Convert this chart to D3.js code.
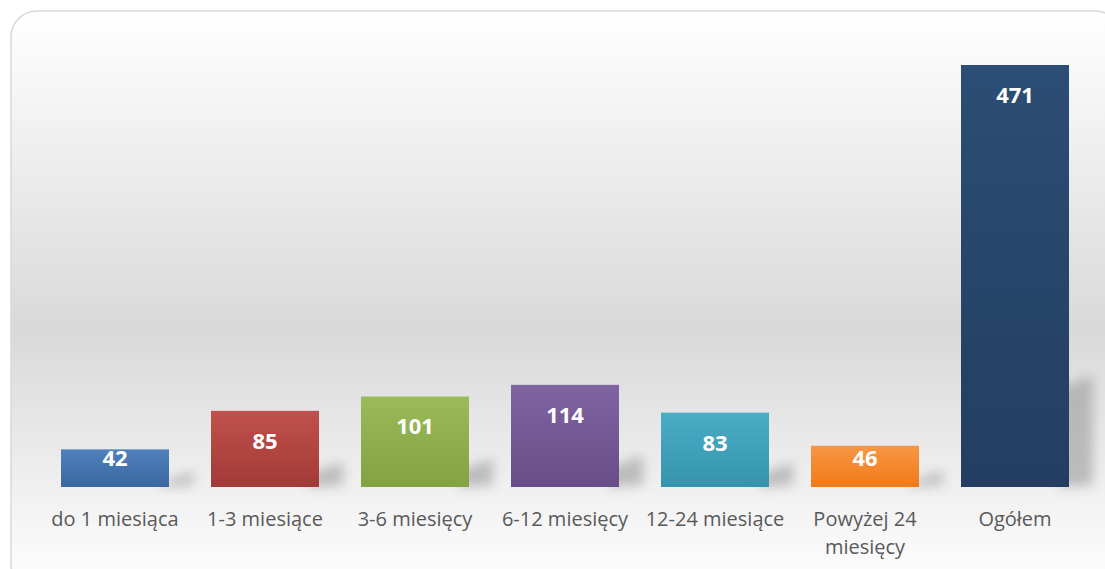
<!DOCTYPE html>
<html lang="pl">
<head>
  <meta charset="UTF-8">
  <title>Czas pozostawania bez pracy</title>
  <script src="https://cdnjs.cloudflare.com/ajax/libs/d3/7.8.5/d3.min.js"></script>
  <style>
    body { margin: 0; background: #ffffff; }
    svg { display: block; }
  </style>
</head>
<body>
  <div id="chart"></div>

  <script>
    // data
    const categories = ['do 1 miesiąca', '1-3 miesiące', '3-6 miesięcy', '6-12 miesięcy', '12-24 miesiące', 'Powyżej 24 miesięcy', 'Ogółem'];
    const values = [42, 85, 101, 114, 83, 46, 471];
    const colorsTop = ['#4f81bd', '#c0504d', '#9bbb59', '#8064a2', '#4bacc6', '#f79646', '#2c4d75'];
    const colorsBottom = ['#3a679f', '#a23a37', '#82a243', '#684d88', '#3594ac', '#f27a17', '#233e60'];

    const width = 1105, height = 569;
    const margin = { top: 65, right: 15, bottom: 82, left: 40 };
    const baseY = height - margin.bottom;

    const svg = d3.select('#chart').append('svg')
      .attr('width', width)
      .attr('height', height);

    const defs = svg.append('defs');

    // background gradient
    const bg = defs.append('linearGradient').attr('id', 'bg')
      .attr('x1', 0).attr('y1', 0).attr('x2', 0).attr('y2', 1);
    bg.append('stop').attr('offset', '0%').attr('stop-color', '#ffffff');
    bg.append('stop').attr('offset', '55%').attr('stop-color', '#d9d9d9');
    bg.append('stop').attr('offset', '100%').attr('stop-color', '#ffffff');

    const blur = defs.append('filter').attr('id', 'blur')
      .attr('x', '-50%').attr('y', '-50%').attr('width', '200%').attr('height', '200%');
    blur.append('feGaussianBlur').attr('stdDeviation', 6);

    colorsTop.forEach(function (c, i) {
      const g = defs.append('linearGradient').attr('id', 'bar' + i)
        .attr('x1', 0).attr('y1', 0).attr('x2', 0).attr('y2', 1);
      g.append('stop').attr('offset', '0%').attr('stop-color', c);
      g.append('stop').attr('offset', '100%').attr('stop-color', colorsBottom[i]);
    });

    // chart frame
    svg.append('rect')
      .attr('x', 11).attr('y', 11)
      .attr('width', 1110).attr('height', 580)
      .attr('rx', 26).attr('ry', 26)
      .attr('fill', 'url(#bg)')
      .attr('stroke', '#d9d9d9')
      .attr('stroke-width', 1.5);

    // scales
    const x = d3.scaleBand()
      .domain(categories)
      .range([margin.left, width - margin.right])
      .paddingInner(0.28)
      .paddingOuter(0.14);

    const y = d3.scaleLinear()
      .domain([0, 471])
      .range([baseY, margin.top]);

    // soft shadows behind the bars
    svg.append('g').selectAll('path')
      .data(values)
      .join('path')
      .attr('d', function (d, i) {
        const x1 = x(categories[i]) + x.bandwidth();
        const h = (baseY - y(d)) * 0.25;
        return 'M' + (x1 - 10) + ',' + baseY +
          'L' + (x1 + 24) + ',' + (baseY - 2) +
          'L' + (x1 + 24) + ',' + (baseY - h - 6) +
          'L' + (x1 - 10) + ',' + (baseY - h + 6) + 'Z';
      })
      .attr('fill', '#9a9a9a')
      .attr('opacity', 0.6)
      .attr('filter', 'url(#blur)');

    // bars
    svg.append('g').selectAll('rect')
      .data(values)
      .join('rect')
      .attr('x', (d, i) => x(categories[i]))
      .attr('y', d => y(d))
      .attr('width', x.bandwidth())
      .attr('height', d => baseY - y(d))
      .attr('fill', (d, i) => 'url(#bar' + i + ')');

    // value labels
    svg.append('g').selectAll('text')
      .data(values)
      .join('text')
      .attr('x', (d, i) => x(categories[i]) + x.bandwidth() / 2)
      .attr('y', d => Math.min(y(d) + 30, baseY - 29))
      .attr('dy', '0.36em')
      .attr('text-anchor', 'middle')
      .attr('fill', '#ffffff')
      .style('font-family', '"Open Sans", sans-serif')
      .style('font-weight', 'bold')
      .style('font-size', '22px')
      .text(d => d);

    // category labels, wrapped to fit the band
    const labels = svg.append('g').selectAll('text')
      .data(categories)
      .join('text')
      .attr('x', d => x(d) + x.bandwidth() / 2)
      .attr('y', baseY + 39)
      .attr('text-anchor', 'middle')
      .attr('fill', '#595959')
      .style('font-family', '"Open Sans", sans-serif')
      .style('font-size', '20px');

    labels.each(function (d) {
      const t = d3.select(this);
      const lines = d === 'Powyżej 24 miesięcy' ? ['Powyżej 24', 'miesięcy'] : [d];
      lines.forEach(function (line, k) {
        t.append('tspan')
          .attr('x', x(d) + x.bandwidth() / 2)
          .attr('dy', k === 0 ? 0 : 28)
          .text(line);
      });
    });
  </script>
</body>
</html>
